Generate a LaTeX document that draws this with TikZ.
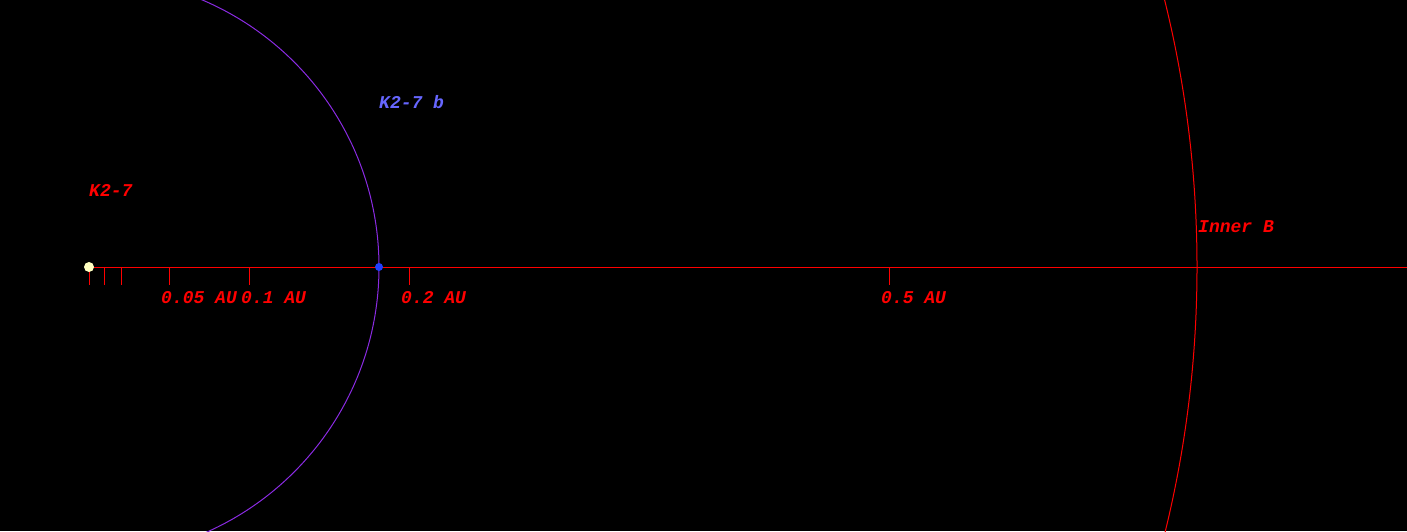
\documentclass[tikz,border=0pt]{standalone}
\usepackage{fontspec}
\setmonofont{Liberation Mono}
\usepackage{tikz}
\definecolor{orbit}{HTML}{8A2BE2}
\definecolor{planetblue}{HTML}{2040FF}
\definecolor{labelblue}{HTML}{6666FF}
\definecolor{starcol}{HTML}{FFFFC0}
\definecolor{axisred}{HTML}{FF0000}

\begin{document}
\begin{tikzpicture}[x=1pt,y=-1pt,
  lbl/.style={font=\ttfamily\bfseries\itshape\fontsize{18}{18}\selectfont,inner sep=0pt,anchor=base west},
  tickmark/.style={axisred,line width=1pt}]
\fill[black] (0,0) rectangle (1407,531);\useasboundingbox (0,0) rectangle (1407,531);
% star and scale (1 AU = 1600 px)
\coordinate (star) at (89,267);\coordinate (axisend) at (1407,267);
\begin{scope}
\clip (0,0) rectangle (1407,531);
\draw[orbit,line width=1pt] (star) circle (290);
\draw[axisred,line width=1pt] (star) circle (1108);
\end{scope}
\draw[axisred,line width=1pt] (star)--(axisend);
\foreach \d/\t in {0/,0.01/,0.02/,0.05/0.05 AU,0.1/0.1 AU,0.2/0.2 AU,0.5/0.5 AU}{
  \draw[tickmark] (89+1600*\d,267)--(89+1600*\d,285);
  \node[lbl,text=axisred] (au\d) at (81+1600*\d,303) {\t};}
\fill[starcol] (star) circle (5);
\node[circle,fill=planetblue,inner sep=0pt,minimum size=8pt] (planet) at (379,267) {};
\node[lbl,text=axisred] (starname) at (89,196) {K2-7};
\node[lbl,text=labelblue] (planetname) at (379,108) {K2-7 b};
\node[lbl,text=axisred] (innerb) at (1198,232) {Inner B};
\end{tikzpicture}
\end{document}
